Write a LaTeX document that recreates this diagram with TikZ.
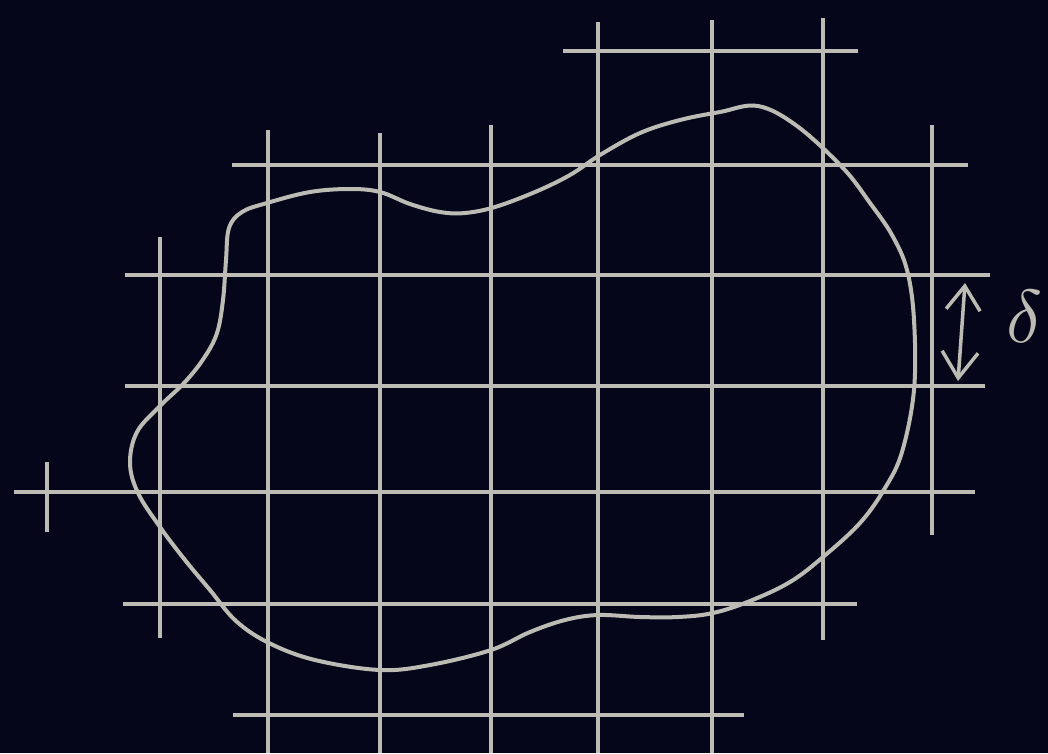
\documentclass[tikz,border=0pt]{standalone}
\usepackage{graphicx}
\usepackage{xcolor}
\usepackage{tikz}
\usetikzlibrary{arrows.meta}
\definecolor{board}{HTML}{06061A}
\definecolor{chalk}{HTML}{BCBCB4}

\begin{document}
\begin{tikzpicture}[x=1pt, y=-1pt,
  gridline/.style={draw=chalk, line width=4.2pt},
  outline/.style={draw=chalk, line width=4pt},
  spacing/.style={draw=chalk, line width=3.5pt, {Straight Barb[length=24pt,width=34pt]}-{Straight Barb[length=26pt,width=36pt]}},
  lab/.style={text=chalk}]
\fill[board] (0,0) rectangle (1048,753);
\useasboundingbox (0,0) rectangle (1048,753);
% vertical grid lines
\foreach \x/\ya/\yb in {47/462/532, 160/237/638, 268/130/753, 380/133/753, 491/125/753,
                        598/22/753, 712/20/753, 823/18/640, 932/125/535}
  \draw[gridline] (\x,\ya) -- (\x,\yb);
% horizontal grid lines
\foreach \y/\xa/\xb in {51/563/858, 165/232/968, 275/125/990, 386/125/985,
                        492/14/975, 604/123/857, 715/233/744}
  \draw[gridline] (\xa,\y) -- (\xb,\y);
% region boundary
\draw[outline] plot[smooth cycle, tension=0.6] coordinates {
  (229,228) (242,212) (267,203) (310,192) (350,189) (380,192) (410,204)
  (440,212) (465,213) (495,207) (535,192) (570,175) (600,155) (640,133) (680,120)
  (720,112) (758,106) (797,126) (843,168) (870,203) (892,235)
  (907,270) (914,320) (914,390) (902,452) (885,488) (860,523) (823,557)
  (790,582) (750,601) (713,613) (678,617) (640,617) (598,615) (565,620) (530,632)
  (491,650) (430,665) (380,670) (315,660) (269,643) (236,621) (210,590) (185,560)
  (160,527) (138,493) (130,463) (137,432) (160,406) (185,382) (204,358) (217,333)
  (223,300) (226,260)};
% grid spacing
\coordinate (dtop) at (965,283);
\coordinate (dbot) at (958,381);
\draw[spacing] (dtop) -- (dbot);
\node[lab] (delta) at (1025,316) {\scalebox{7.5}{$\delta$}};
\end{tikzpicture}
\end{document}
